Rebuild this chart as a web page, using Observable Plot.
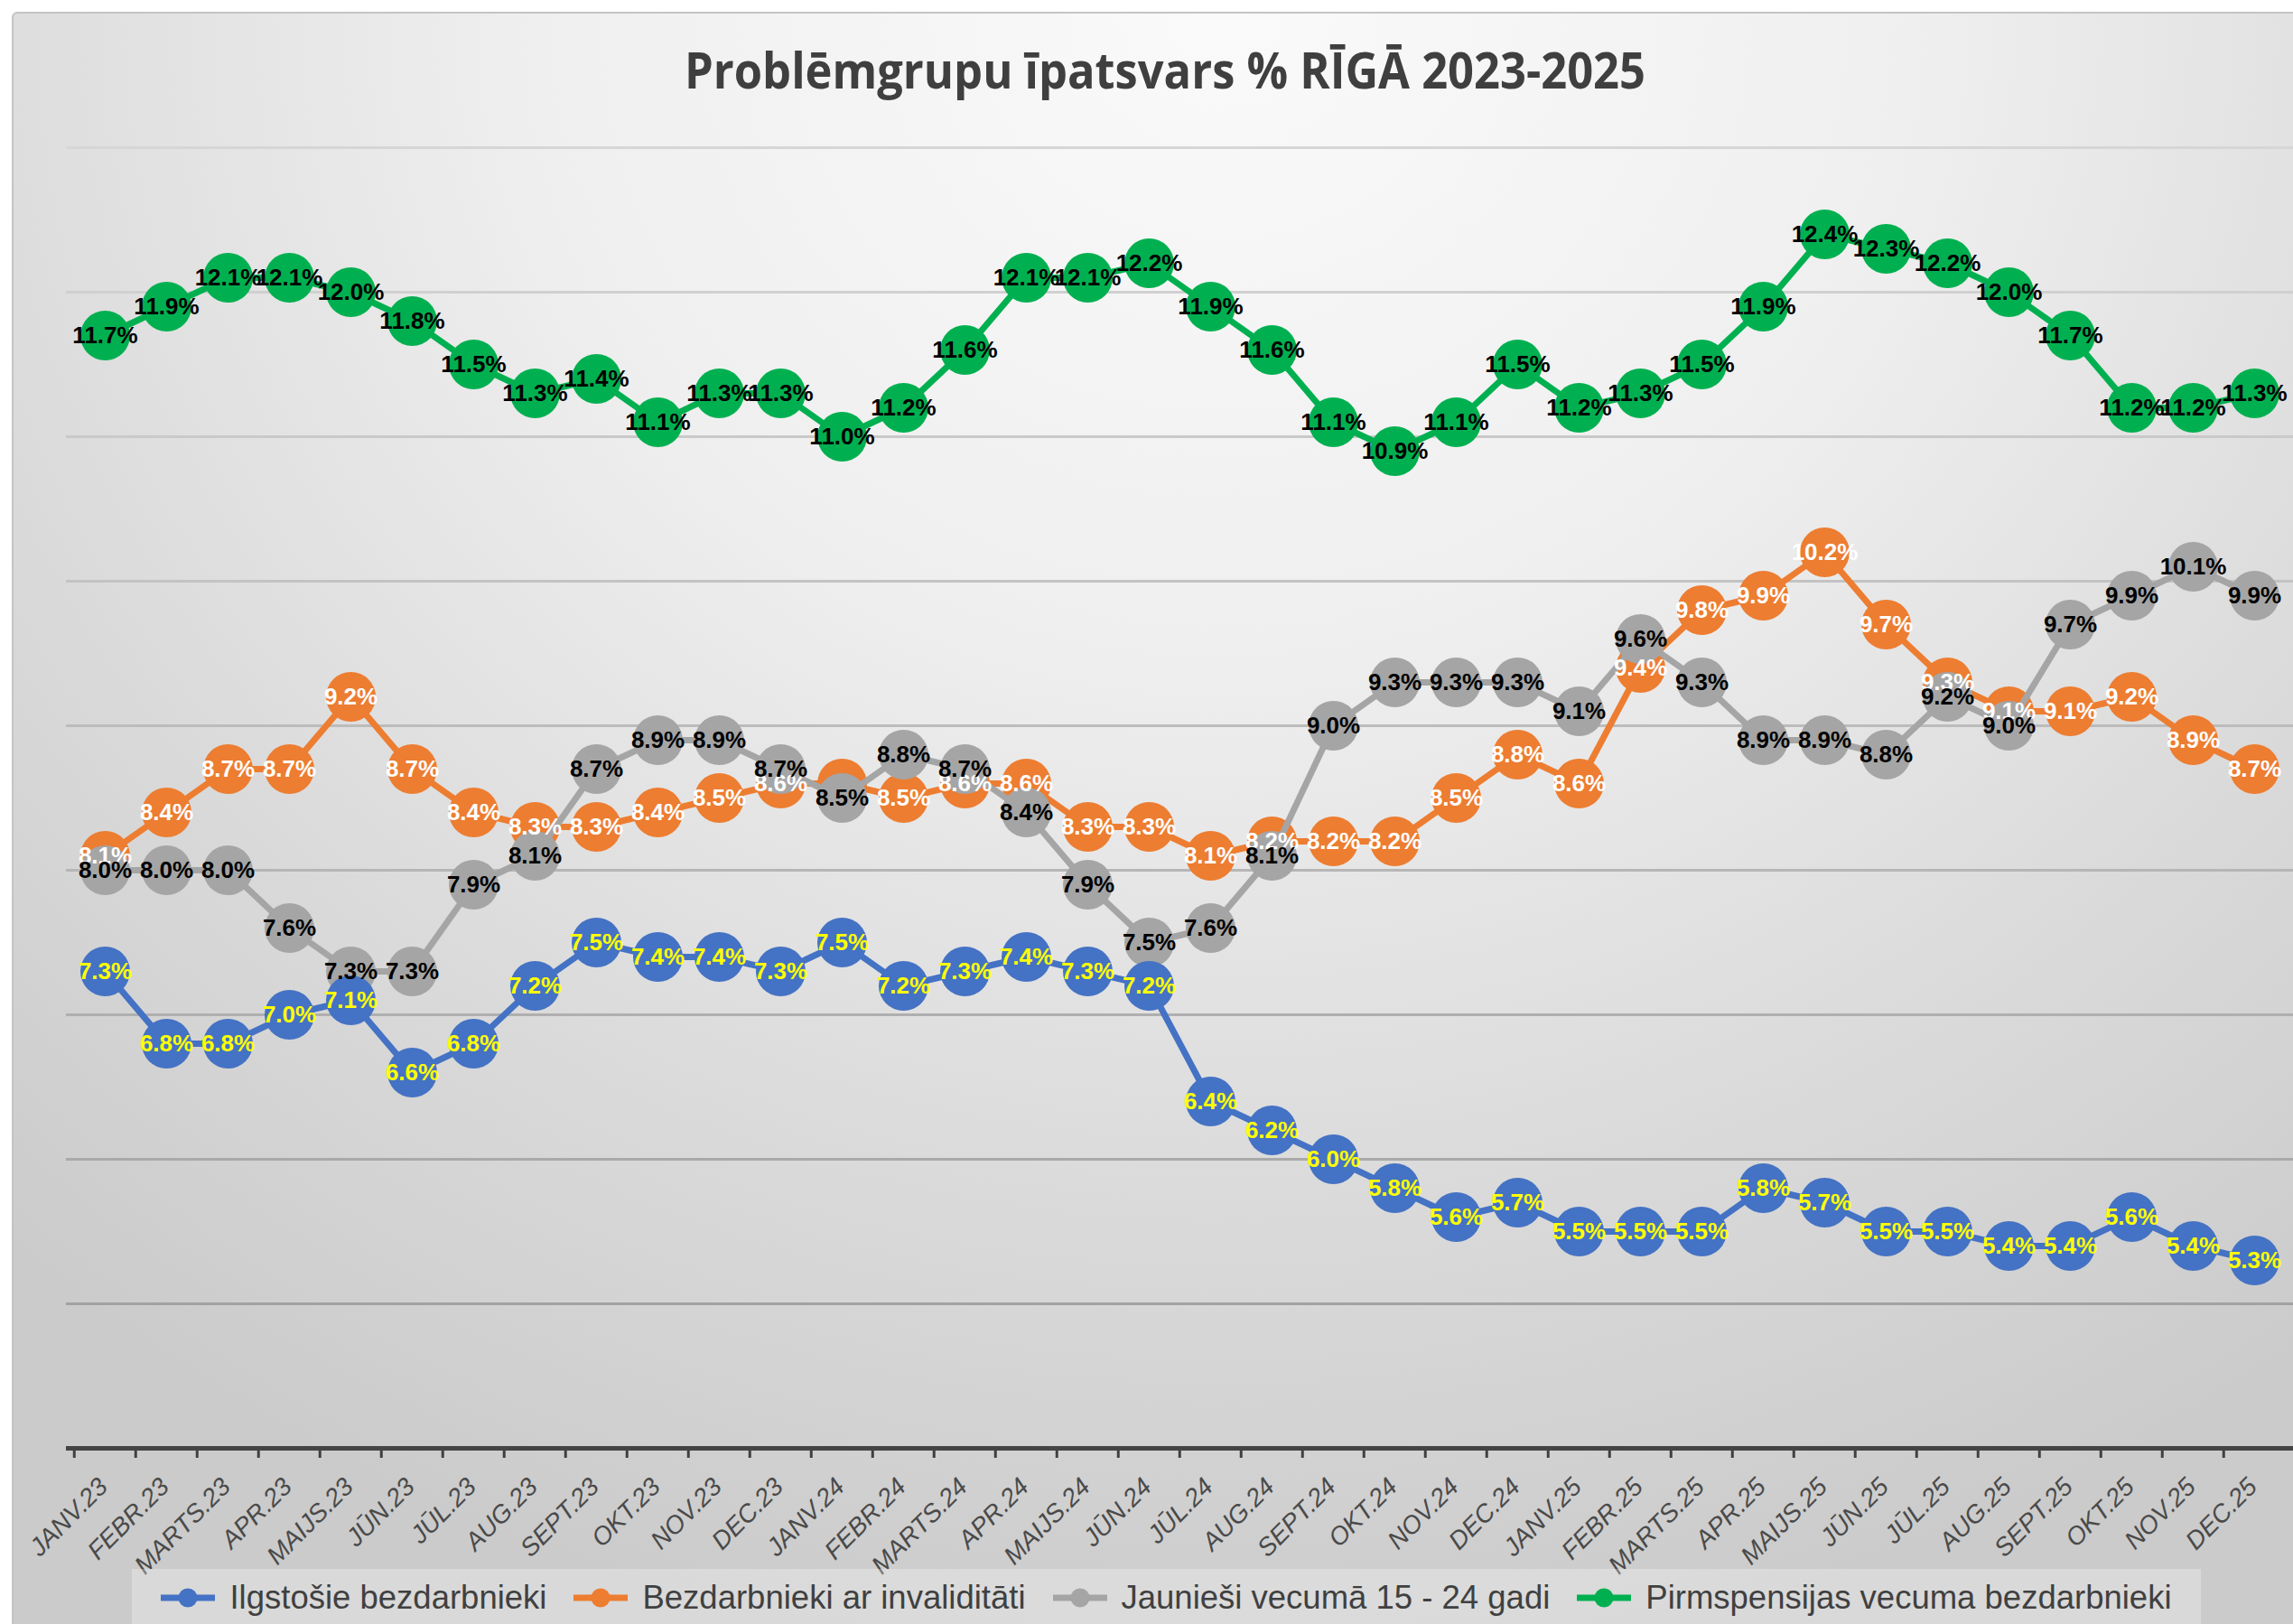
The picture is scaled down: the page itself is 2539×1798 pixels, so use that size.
<!DOCTYPE html>
<html>
<head>
<meta charset="utf-8">
<script src="https://cdn.jsdelivr.net/npm/d3@7"></script>
<script src="https://cdn.jsdelivr.net/npm/@observablehq/plot@0.6"></script>
<style>
  html, body { margin: 0; padding: 0; background: #ffffff; width: 2539px; height: 1798px; overflow: hidden; }
  #frame {
    position: absolute; left: 13px; top: 13px; width: 2580px; height: 1840px;
    border: 2px solid #c4c4c4; border-radius: 6px; box-sizing: border-box;
    background: radial-gradient(ellipse 78% 100% at 52% 0%, #fafafa 0%, #efefef 38%, #dadada 72%, #cbcbcb 100%);
  }
  #title { position: absolute; left: 0; top: 0; }
  #chart { position: absolute; left: 0; top: 0; }
  #legend {
    position: absolute; left: 146px; top: 1737px; width: 2291px; height: 90px;
    background: rgba(255,255,255,0.28);
    display: flex; justify-content: center; align-items: flex-start; gap: 30px;
    padding-top: 12px; box-sizing: border-box;
    font-family: "Liberation Sans", Arial, sans-serif; font-size: 36.5px; line-height: 40px; color: #404040;
  }
  .item { display: flex; align-items: center; white-space: nowrap; }
  .item svg { margin-right: 16px; }
</style>
</head>
<body>
<div id="frame"></div>
<svg id="title" width="2539" height="130"></svg>
<div id="chart"></div>
<div id="legend"></div>
<script>
// ---- data ----
const titleText = "Problēmgrupu īpatsvars % RĪGĀ 2023-2025";
const months = [
  "JANV.23","FEBR.23","MARTS.23","APR.23","MAIJS.23","JŪN.23","JŪL.23","AUG.23","SEPT.23","OKT.23","NOV.23","DEC.23",
  "JANV.24","FEBR.24","MARTS.24","APR.24","MAIJS.24","JŪN.24","JŪL.24","AUG.24","SEPT.24","OKT.24","NOV.24","DEC.24",
  "JANV.25","FEBR.25","MARTS.25","APR.25","MAIJS.25","JŪN.25","JŪL.25","AUG.25","SEPT.25","OKT.25","NOV.25","DEC.25"
];
const ilgstosie = [7.3,6.8,6.8,7.0,7.1,6.6,6.8,7.2,7.5,7.4,7.4,7.3, 7.5,7.2,7.3,7.4,7.3,7.2,6.4,6.2,6.0,5.8,5.6,5.7, 5.5,5.5,5.5,5.8,5.7,5.5,5.5,5.4,5.4,5.6,5.4,5.3];
const invaliditate = [8.1,8.4,8.7,8.7,9.2,8.7,8.4,8.3,8.3,8.4,8.5,8.6, 8.6,8.5,8.6,8.6,8.3,8.3,8.1,8.2,8.2,8.2,8.5,8.8, 8.6,9.4,9.8,9.9,10.2,9.7,9.3,9.1,9.1,9.2,8.9,8.7];
const jauniesi = [8.0,8.0,8.0,7.6,7.3,7.3,7.9,8.1,8.7,8.9,8.9,8.7, 8.5,8.8,8.7,8.4,7.9,7.5,7.6,8.1,9.0,9.3,9.3,9.3, 9.1,9.6,9.3,8.9,8.9,8.8,9.2,9.0,9.7,9.9,10.1,9.9];
const pirmspensijas = [11.7,11.9,12.1,12.1,12.0,11.8,11.5,11.3,11.4,11.1,11.3,11.3, 11.0,11.2,11.6,12.1,12.1,12.2,11.9,11.6,11.1,10.9,11.1,11.5, 11.2,11.3,11.5,11.9,12.4,12.3,12.2,12.0,11.7,11.2,11.2,11.3];
const seriesNames = ["Ilgstošie bezdarbnieki","Bezdarbnieki ar invaliditāti","Jaunieši vecumā 15 - 24 gadi","Pirmspensijas vecuma bezdarbnieki"];
const seriesValues = [ilgstosie, invaliditate, jauniesi, pirmspensijas];
const seriesColors = ["#4472C4","#ED7D31","#A5A5A5","#00B050"];
const labelColors = ["#FFFF00","#FFFFFF","#000000","#000000"];
const drawOrder = [1, 2, 0, 3];
const hiddenLabels = [{series: 1, month: "JANV.24"}];
const yGrid = [5,6,7,8,9,10,11,12,13];
const yDomain = [4, 13];

// ---- layout ----
const W = 2539, H = 1740;
const mL = 73, mR = 0, mT = 163, mB = H - 1603;
const step = (W - mL - mR) / months.length;

const rows = [];
seriesValues.forEach((vals, s) => vals.forEach((v, i) => rows.push({s, series: seriesNames[s], month: months[i], value: v})));
const isHidden = d => hiddenLabels.some(h => h.series === d.s && h.month === d.month);

// title
const tsvg = d3.select("#title");
tsvg.append("text")
  .attr("x", 1290).attr("y", 98)
  .attr("text-anchor", "middle")
  .attr("textLength", 1064).attr("lengthAdjust", "spacingAndGlyphs")
  .style("font-family", "'Open Sans', 'Liberation Sans', sans-serif")
  .style("font-weight", 700).style("font-size", "56px").style("fill", "#3f3f3f")
  .text(titleText);

const gridColor = d3.interpolateRgb("#a2a2a2", "#d6d6d6");

const seriesMarks = drawOrder.flatMap(s => {
  const d = rows.filter(r => r.s === s);
  return [
    Plot.line(d, {x: "month", y: "value", stroke: seriesColors[s], strokeWidth: 7}),
    Plot.dot(d, {x: "month", y: "value", r: 27.5, fill: seriesColors[s]})
  ];
});
const labelMarks = drawOrder.map(s => Plot.text(rows.filter(r => r.s === s && !isHidden(r)), {
  x: "month", y: "value", text: d => d.value.toFixed(1) + "%",
  fill: labelColors[s], fontSize: 26, fontWeight: "bold", fontFamily: "Liberation Sans",
  lineAnchor: "middle", textAnchor: "middle"
}));

const chart = Plot.plot({
  width: W, height: H,
  marginLeft: mL, marginRight: mR, marginTop: mT, marginBottom: mB,
  style: {background: "transparent", overflow: "visible"},
  x: {type: "point", domain: months, padding: 0.5},
  y: {domain: yDomain, axis: null},
  marks: [
    Plot.ruleY(yGrid, {stroke: d => gridColor((d - 5) / 8), strokeWidth: 3}),
    Plot.axisX({tickSize: 11, dx: -step / 2, fill: "none", stroke: "#404040", strokeWidth: 3, label: null}),
    Plot.ruleY([yDomain[0]], {stroke: "#444444", strokeWidth: 5}),
    Plot.axisX({tickSize: 0, tickPadding: 38, tickRotate: -45, fontSize: 28, fontStyle: "italic",
      fontFamily: "Liberation Sans", fill: "#4a4a4a", dx: -2, label: null}),
    ...seriesMarks,
    ...labelMarks
  ]
});
document.getElementById("chart").appendChild(chart);

// legend
const legend = d3.select("#legend");
seriesNames.forEach((name, s) => {
  const it = legend.append("div").attr("class", "item");
  const sv = it.append("svg").attr("width", 60).attr("height", 40);
  sv.append("line").attr("x1", 0).attr("x2", 60).attr("y1", 20).attr("y2", 20)
    .attr("stroke", seriesColors[s]).attr("stroke-width", 7);
  sv.append("circle").attr("cx", 30).attr("cy", 20).attr("r", 10.5).attr("fill", seriesColors[s]);
  it.append("span").text(name);
});
</script>
</body>
</html>
